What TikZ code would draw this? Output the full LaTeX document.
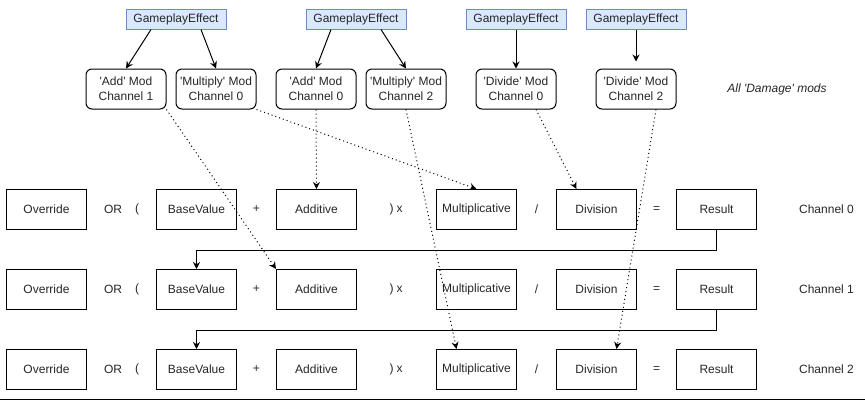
\documentclass[tikz,border=0pt]{standalone}
\usepackage{fontspec}
\setmainfont{Liberation Sans}
\usepackage{tikz}
\usetikzlibrary{arrows.meta}
\newcommand{\apos}{\textquotesingle}
\definecolor{effectFill}{HTML}{DAE8FC}
\definecolor{effectLine}{HTML}{6C8EBF}
\tikzset{>={Stealth[length=7pt,width=7pt]},
    every node/.style={font=\fontsize{12}{15}\selectfont, text=black!85},
    effect/.style={draw=effectLine, fill=effectFill, minimum width=100pt, minimum height=20pt, inner sep=0pt},
    modbox/.style={draw, rounded corners=6pt, minimum width=80pt, minimum height=40pt, inner sep=0pt, align=center},
    termbox/.style={draw, minimum width=80pt, minimum height=40pt, inner sep=0pt},
    modlink/.style={->, dash pattern=on 1pt off 3pt},
    }

\begin{document}
\begin{tikzpicture}[x=1pt, y=-1pt, line width=1pt]
	\useasboundingbox (0,0) rectangle (865,400);
	% effects
	\node[effect] (effectOne) at (176,19) {GameplayEffect};
	\node[effect] (effectTwo) at (356,19) {GameplayEffect};
	\node[effect] (effectThree) at (516,19) {GameplayEffect};
	\node[effect] (effectFour) at (636,19) {GameplayEffect};
	% mods
	\node[modbox] (addOne) at (126,89) {\apos Add\apos{} Mod\\Channel 1};
	\node[modbox] (mulZero) at (216,89) {\apos Multiply\apos{} Mod\\Channel 0};
	\node[modbox] (addZero) at (316,89) {\apos Add\apos{} Mod\\Channel 0};
	\node[modbox] (mulTwo) at (406,89) {\apos Multiply\apos{} Mod\\Channel 2};
	\node[modbox] (divZero) at (516,89) {\apos Divide\apos{} Mod\\Channel 0};
	\node[modbox] (divTwo) at (636,89) {\apos Divide\apos{} Mod\\Channel 2};
	\node[font=\fontsize{12}{15}\selectfont\itshape] (allMods) at (777,89) {All \apos Damage\apos{} mods};
	% channel 0
	\node[termbox] (overrideZero) at (46.5,209.5) {Override};
	\node (orZero) at (113,209.5) {OR};
	\node (openZero) at (137,209.5) {(};
	\node[termbox] (baseZero) at (196.5,209.5) {BaseValue};
	\node (plusZero) at (256.5,209.5) {+};
	\node[termbox] (additiveZero) at (316.5,209.5) {Additive};
	\node (closeZero) at (396,209.5) {)\hspace{3pt}x};
	\node[termbox] (multiplicativeZero) at (476.5,209.5) {Multiplicative};
	\node (slashZero) at (536.5,209.5) {/};
	\node[termbox] (divisionZero) at (596.5,209.5) {Division};
	\node (equalsZero) at (656.5,209.5) {=};
	\node[termbox] (resultZero) at (716.5,209.5) {Result};
	\node (channelZero) at (826.5,209.5) {Channel 0};
	% channel 1
	\node[termbox] (overrideOne) at (46.5,289.5) {Override};
	\node (orOne) at (113,289.5) {OR};
	\node (openOne) at (137,289.5) {(};
	\node[termbox] (baseOne) at (196.5,289.5) {BaseValue};
	\node (plusOne) at (256.5,289.5) {+};
	\node[termbox] (additiveOne) at (316.5,289.5) {Additive};
	\node (closeOne) at (396,289.5) {)\hspace{3pt}x};
	\node[termbox] (multiplicativeOne) at (476.5,289.5) {Multiplicative};
	\node (slashOne) at (536.5,289.5) {/};
	\node[termbox] (divisionOne) at (596.5,289.5) {Division};
	\node (equalsOne) at (656.5,289.5) {=};
	\node[termbox] (resultOne) at (716.5,289.5) {Result};
	\node (channelOne) at (826.5,289.5) {Channel 1};
	% channel 2
	\node[termbox] (overrideTwo) at (46.5,369.5) {Override};
	\node (orTwo) at (113,369.5) {OR};
	\node (openTwo) at (137,369.5) {(};
	\node[termbox] (baseTwo) at (196.5,369.5) {BaseValue};
	\node (plusTwo) at (256.5,369.5) {+};
	\node[termbox] (additiveTwo) at (316.5,369.5) {Additive};
	\node (closeTwo) at (396,369.5) {)\hspace{3pt}x};
	\node[termbox] (multiplicativeTwo) at (476.5,369.5) {Multiplicative};
	\node (slashTwo) at (536.5,369.5) {/};
	\node[termbox] (divisionTwo) at (596.5,369.5) {Division};
	\node (equalsTwo) at (656.5,369.5) {=};
	\node[termbox] (resultTwo) at (716.5,369.5) {Result};
	\node (channelTwo) at (826.5,369.5) {Channel 2};

	\draw[->] ([xshift=-25pt]effectOne.south) -- (addOne.north);
	\draw[->] ([xshift=25pt]effectOne.south) -- (mulZero.north);
	\draw[->] ([xshift=-25pt]effectTwo.south) -- (addZero.north);
	\draw[->] ([xshift=25pt]effectTwo.south) -- (mulTwo.north);
	\draw[->] (effectThree.south) -- (divZero.north);
	\draw[->, shorten >=7pt] (effectFour.south) -- (divTwo.north);

	\draw[modlink] (addOne.south east) -- (additiveOne.north west);
	\draw[modlink] (mulZero.south east) -- (multiplicativeZero.north);
	\draw[modlink] (addZero.south) -- (additiveZero.north);
	\draw[modlink] (mulTwo.south) -- ([xshift=-20pt]multiplicativeTwo.north);
	\draw[modlink] ([xshift=20pt]divZero.south) -- ([xshift=-20pt]divisionZero.north);
	\draw[modlink] ([xshift=20pt]divTwo.south) -- ([xshift=20pt]divisionTwo.north);

	\draw[->] (resultZero.south) -- ++(0,20) -| (baseOne.north);
	\draw[->] (resultOne.south) -- ++(0,20) -| (baseTwo.north);
	%\draw (overrideTwo.south west) -- (channelTwo.south east);
	\draw (0,399.5) -- (865,399.5);
\end{tikzpicture}
\end{document}
